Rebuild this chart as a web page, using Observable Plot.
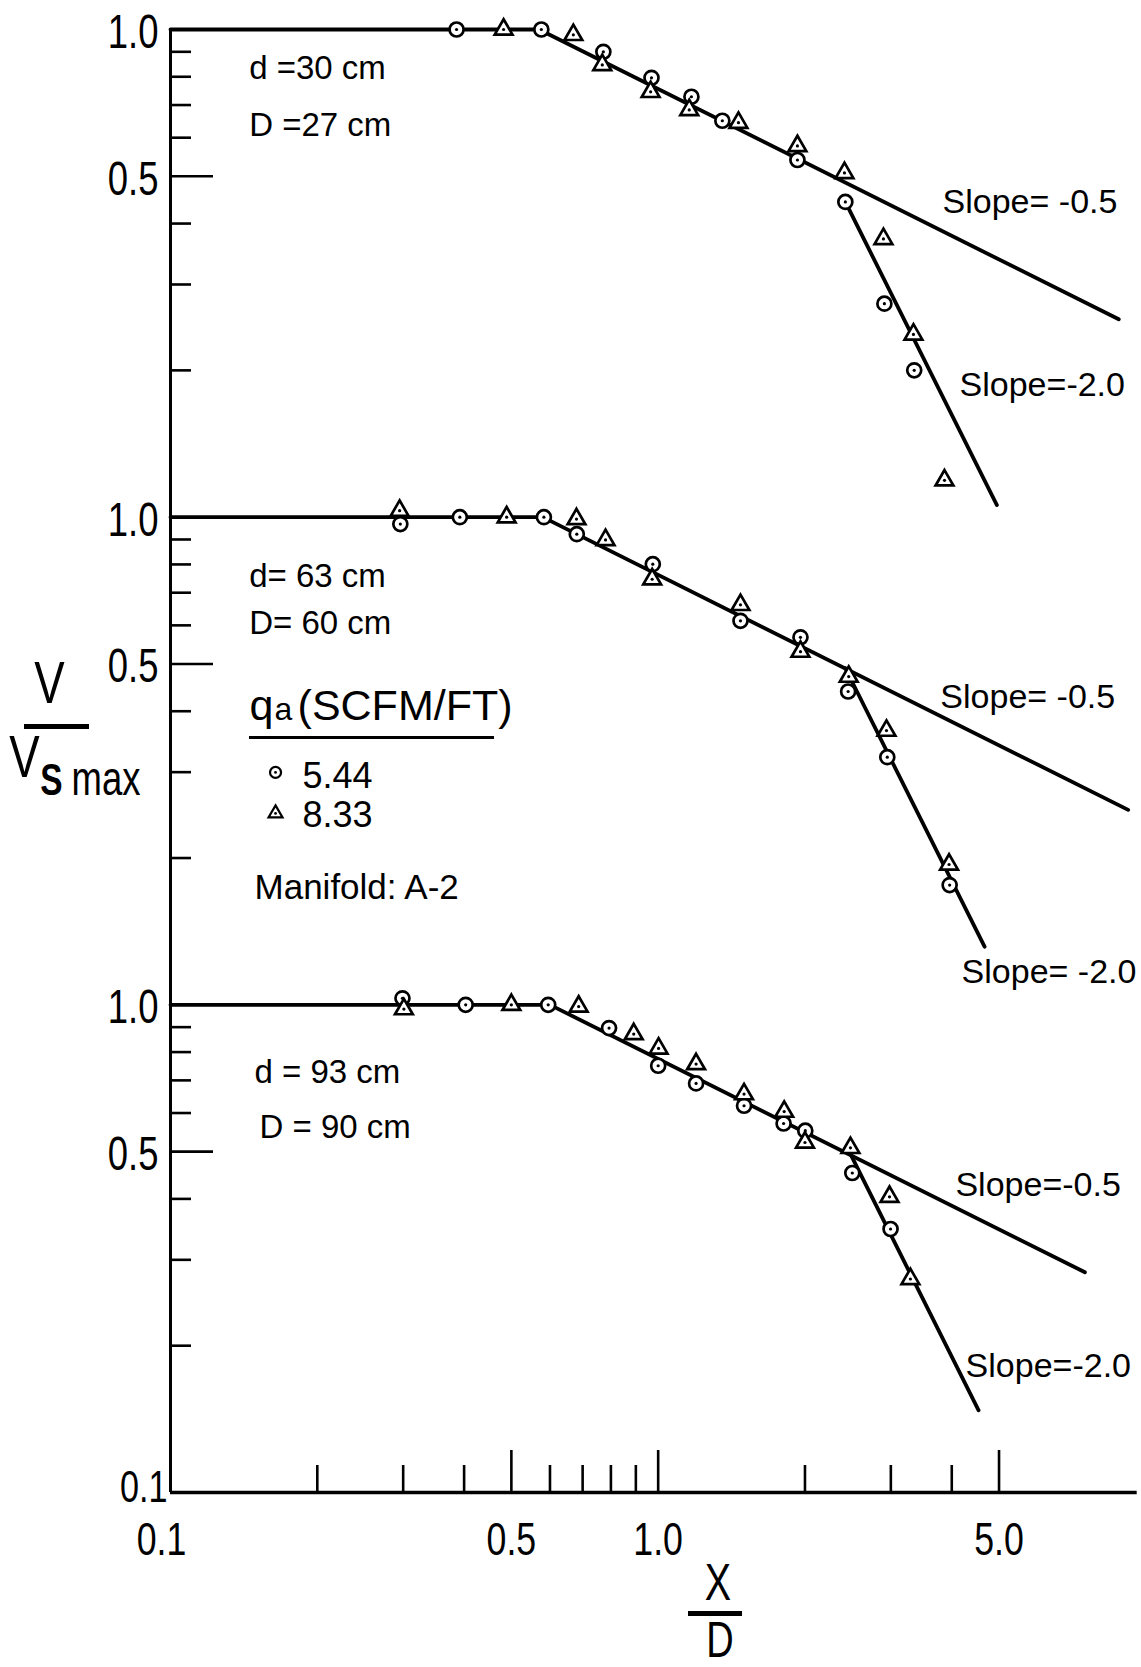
<!DOCTYPE html>
<html>
<head>
<meta charset="utf-8">
<script src="https://cdn.jsdelivr.net/npm/d3@7"></script>
<script src="https://cdn.jsdelivr.net/npm/@observablehq/plot@0.6"></script>
<style>
  html, body { margin: 0; padding: 0; background: #fff; }
  #chart svg { display: block; }
</style>
</head>
<body>
<div id="chart"></div>
<script>
// ---------------------------------------------------------------------------
// Centre-line velocity decay V / Vs,max against X / D for three gaps,
// two air rates each (q_a = 5.44 and 8.33 SCFM/FT), Manifold A-2.
// The three panels share one log axis; each sits one decade above the next.
// ---------------------------------------------------------------------------

// d = 30 cm, D = 27 cm
const d30CircleX   = [0.386, 0.576, 0.772, 0.969, 1.170, 1.354, 1.930, 2.420, 2.910, 3.350];
const d30CircleV   = [1.000, 1.000, 0.900, 0.796, 0.728, 0.650, 0.540, 0.443, 0.274, 0.200];
const d30TriangleX = [0.482, 0.670, 0.768, 0.965, 1.158, 1.461, 1.930, 2.410, 2.897, 3.338, 3.865];
const d30TriangleV = [1.000, 0.975, 0.846, 0.745, 0.684, 0.644, 0.577, 0.508, 0.372, 0.237, 0.119];

// d = 63 cm, D = 60 cm
const d63CircleX   = [0.296, 0.392, 0.583, 0.681, 0.975, 1.475, 1.958, 2.452, 2.950, 3.960];
const d63CircleV   = [0.968, 1.000, 1.000, 0.923, 0.801, 0.613, 0.567, 0.439, 0.322, 0.176];
const d63TriangleX = [0.295, 0.489, 0.680, 0.780, 0.972, 1.475, 1.958, 2.459, 2.939, 3.949];
const d63TriangleV = [1.031, 1.000, 0.991, 0.898, 0.746, 0.661, 0.530, 0.471, 0.365, 0.194];

// d = 93 cm, D = 90 cm
const d93CircleX   = [0.299, 0.403, 0.595, 0.793, 1.000, 1.196, 1.500, 1.808, 2.003, 2.501, 2.996];
const d93CircleV   = [1.031, 1.000, 1.000, 0.896, 0.750, 0.690, 0.621, 0.571, 0.552, 0.452, 0.347];
const d93TriangleX = [0.301, 0.500, 0.687, 0.891, 1.002, 1.196, 1.500, 1.813, 2.000, 2.479, 2.981, 3.290];
const d93TriangleV = [0.980, 1.000, 0.992, 0.871, 0.814, 0.756, 0.656, 0.604, 0.522, 0.509, 0.404, 0.274];

// Panels, top to bottom, and the decade shift that stacks them
const panelNames  = ["d=30", "d=63", "d=93"];
const panelShift  = [100, 10, 1];
const airRates    = ["5.44", "8.33"];

// Fitted lines: plateau at 1.0, then slope -0.5, then slope -2.0
const shallowSlope   = -0.5;
const steepSlope     = -2.0;
const kneeX          = [0.57, 0.58, 0.60];
const shallowEndX    = [8.8, 9.2, 7.5];
const steepStartX    = [2.42, 2.42, 2.49];
const steepStartV    = [0.443, 0.49, 0.49];
const steepEndX      = [4.95, 4.67, 4.54];

// Axis ticks (per decade on y)
const yMinorTicks = [0.2, 0.3, 0.4, 0.6, 0.7, 0.8, 0.9];
const yMajorTicks = [0.5];
const yTickLabels = [{v: 1, label: "1.0"}, {v: 0.5, label: "0.5"}];
const xMinorTicks = [0.2, 0.3, 0.4, 0.6, 0.7, 0.8, 0.9, 2, 3, 4];
const xMajorTicks = [0.5, 1, 5];
const xTickValues = [0.5, 1, 5];
const xTickLabels = ["0.5", "1.0", "5.0"];

// ---------------------------------------------------------------------------
// Layout: equal pixels per decade on both axes
const W = 1141, H = 1667;
const marginLeft = 170, marginTop = 29, marginBottom = 175;
const decade = (H - marginTop - marginBottom) / 3;
const xMax = 9.6;
const marginRight = W - marginLeft - decade * Math.log10(xMax / 0.1);
// pixel position -> data value (for the fraction bars outside the frame)
const toX = px => 0.1 * 10 ** ((px - marginLeft) / decade);
const toY = py => 0.1 * 10 ** ((H - marginBottom - py) / decade);

// Condensed lettering is the sans face squeezed horizontally after rendering
const narrow = "'Liberation Sans', Helvetica, sans-serif";
const plain  = "'Liberation Sans', Arial, sans-serif";
const squeeze = 0.76;

// ---------------------------------------------------------------------------
// Tidy point rows
const series = [
  [d30CircleX, d30CircleV, d30TriangleX, d30TriangleV],
  [d63CircleX, d63CircleV, d63TriangleX, d63TriangleV],
  [d93CircleX, d93CircleV, d93TriangleX, d93TriangleV]
];
const points = series.flatMap(([cx, cv, tx, tv], p) => [
  ...cx.map((x, i) => ({panel: panelNames[p], q: airRates[0], x, v: cv[i], y: cv[i] * panelShift[p]})),
  ...tx.map((x, i) => ({panel: panelNames[p], q: airRates[1], x, v: tv[i], y: tv[i] * panelShift[p]}))
]);

// Fitted line vertices from the stated slopes
const fits = panelNames.flatMap((name, p) => {
  const s = panelShift[p];
  const vShallow = x => (x / kneeX[p]) ** shallowSlope;
  const vSteep = x => steepStartV[p] * (x / steepStartX[p]) ** steepSlope;
  return [
    {id: name + "-a", x: 0.1, y: s},
    {id: name + "-a", x: kneeX[p], y: s},
    {id: name + "-a", x: shallowEndX[p], y: vShallow(shallowEndX[p]) * s},
    {id: name + "-b", x: steepStartX[p], y: steepStartV[p] * s},
    {id: name + "-b", x: steepEndX[p], y: vSteep(steepEndX[p]) * s}
  ];
});

const yMinor = panelShift.flatMap(s => yMinorTicks.map(t => t * s));
const yMajor = panelShift.flatMap(s => yMajorTicks.map(t => t * s));
const yLabels = panelShift.flatMap(s => yTickLabels.map(d => ({y: d.v * s, label: d.label})));
const xLabels = xTickValues.map((x, i) => ({x, label: xTickLabels[i]}));

// Panel annotations (x in X/D, v in V/Vs,max of that panel)
const notes = [
  {p: 0, x: 0.145, v: 0.793, text: "d =30 cm"},
  {p: 0, x: 0.145, v: 0.606, text: "D =27 cm"},
  {p: 1, x: 0.145, v: 0.718, text: "d= 63 cm"},
  {p: 1, x: 0.145, v: 0.577, text: "D= 60 cm"},
  {p: 2, x: 0.1487, v: 0.690, text: "d = 93 cm"},
  {p: 2, x: 0.1522, v: 0.532, text: "D = 90 cm"}
].map(d => ({...d, y: d.v * panelShift[d.p]}));

const slopeNotes = [
  {p: 0, x: 3.83, v: 0.4195, text: `Slope= ${shallowSlope.toFixed(1)}`},
  {p: 0, x: 4.15, v: 0.1768, text: `Slope=${steepSlope.toFixed(1)}`},
  {p: 1, x: 3.79, v: 0.407, text: `Slope= ${shallowSlope.toFixed(1)}`},
  {p: 1, x: 4.19, v: 0.1106, text: `Slope= ${steepSlope.toFixed(1)}`},
  {p: 2, x: 4.07, v: 0.4064, text: `Slope=${shallowSlope.toFixed(1)}`},
  {p: 2, x: 4.27, v: 0.1729, text: `Slope=${steepSlope.toFixed(1)}`}
].map(d => ({...d, y: d.v * panelShift[d.p]}));

// Key, placed in the middle panel
const keyShift = panelShift[1];
const keyMarks = [
  {q: airRates[0], x: 0.1642, y: 0.2996 * keyShift},
  {q: airRates[1], x: 0.1642, y: 0.2469 * keyShift}
];
const keyLabels = [
  {x: 0.1865, y: 0.2778 * keyShift, text: airRates[0]},
  {x: 0.1865, y: 0.2311 * keyShift, text: airRates[1]}
];

const lineStyle = {stroke: "black", strokeWidth: 3.8, strokeLinejoin: "round", strokeLinecap: "round"};
const markStyle = {stroke: "black", strokeWidth: 2.7, fill: "white"};
const tickStyle = {strokeWidth: 2.6, label: null, tickFormat: () => ""};

const chart = Plot.plot({
  width: W,
  height: H,
  marginLeft, marginRight, marginTop, marginBottom,
  style: {background: "white", color: "black", overflow: "visible"},
  x: {type: "log", domain: [0.1, xMax], axis: null},
  y: {type: "log", domain: [0.1, 100], axis: null},
  marks: [
    // axis lines
    Plot.ruleX([0.1], {y1: 0.1, y2: 100, stroke: "black", strokeWidth: 3}),
    Plot.ruleY([0.1], {x1: 0.1, x2: xMax, stroke: "black", strokeWidth: 3.6}),
    // inward ticks
    Plot.axisY(yMinor, {anchor: "left", tickSize: -21, ...tickStyle}),
    Plot.axisY(yMajor, {anchor: "left", tickSize: -43, ...tickStyle}),
    Plot.axisX(xMinorTicks, {anchor: "bottom", tickSize: -27, ...tickStyle}),
    Plot.axisX(xMajorTicks, {anchor: "bottom", tickSize: -42, ...tickStyle}),
    // tick labels
    Plot.text(yLabels, {y: "y", text: "label", frameAnchor: "left", dx: -12, dy: 3, textAnchor: "end",
      fontFamily: narrow, fontSize: 48}),
    Plot.text(["0.1"], {y: 0.1, text: d => d, frameAnchor: "left", dx: -3, dy: -5, textAnchor: "end",
      fontFamily: narrow, fontSize: 45}),
    Plot.text(xLabels, {x: "x", text: "label", frameAnchor: "bottom", dy: 62, lineAnchor: "bottom",
      textAnchor: "middle", fontFamily: narrow, fontSize: 47}),
    Plot.text(["0.1"], {x: 0.1, text: d => d, frameAnchor: "bottom", dx: -9, dy: 62, lineAnchor: "bottom",
      textAnchor: "middle", fontFamily: narrow, fontSize: 47}),
    // axis titles
    Plot.text(["V"], {frameAnchor: "left", dx: -121, dy: -58, lineAnchor: "bottom", textAnchor: "middle",
      fontFamily: narrow, fontSize: 60}),
    Plot.ruleY([toY(726)], {x1: toX(24), x2: toX(89), stroke: "black", strokeWidth: 5}),
    Plot.text(["V"], {frameAnchor: "left", dx: -146, dy: 16, lineAnchor: "bottom", textAnchor: "middle",
      fontFamily: narrow, fontSize: 60}),
    Plot.text(["S"], {frameAnchor: "left", dx: -119, dy: 34, lineAnchor: "bottom", textAnchor: "middle",
      fontFamily: narrow, fontSize: 44, fontWeight: "bold"}),
    Plot.text(["max"], {frameAnchor: "left", dx: -99, dy: 34, lineAnchor: "bottom", textAnchor: "start",
      fontFamily: narrow, fontSize: 48}),
    Plot.text(["X"], {frameAnchor: "bottom", dx: 64, dy: 107, lineAnchor: "bottom", textAnchor: "middle",
      fontFamily: narrow, fontSize: 52}),
    Plot.ruleY([toY(1613)], {x1: toX(688), x2: toX(742), stroke: "black", strokeWidth: 5}),
    Plot.text(["D"], {frameAnchor: "bottom", dx: 66, dy: 164, lineAnchor: "bottom", textAnchor: "middle",
      fontFamily: narrow, fontSize: 50}),
    // fitted lines
    Plot.line(fits, {x: "x", y: "y", z: "id", ...lineStyle}),
    // measurements
    Plot.dot(points.filter(d => d.q === airRates[0]), {x: "x", y: "y", symbol: "circle", r: 7, ...markStyle}),
    Plot.dot(points.filter(d => d.q === airRates[1]), {x: "x", y: "y", symbol: "triangle", r: 6.6, ...markStyle}),
    Plot.dot(points, {x: "x", y: "y", r: 1.6, fill: "black", stroke: null}),
    // panel annotations
    Plot.text(notes, {x: "x", y: "y", text: "text", textAnchor: "start", lineAnchor: "bottom",
      fontFamily: plain, fontSize: 33}),
    Plot.text(slopeNotes, {x: "x", y: "y", text: "text", textAnchor: "start", lineAnchor: "bottom",
      fontFamily: plain, fontSize: 34}),
    // key
    Plot.text(["q"], {x: 0.1452, y: 0.383 * keyShift, textAnchor: "start", lineAnchor: "bottom", fontFamily: plain, fontSize: 43}),
    Plot.text(["a"], {x: 0.1634, y: 0.383 * keyShift, textAnchor: "start", lineAnchor: "bottom", fontFamily: plain, fontSize: 32}),
    Plot.text(["(SCFM/FT)"], {x: 0.1822, y: 0.383 * keyShift, textAnchor: "start", lineAnchor: "bottom", fontFamily: plain, fontSize: 43}),
    Plot.ruleY([0.3534 * keyShift], {x1: 0.1452, x2: 0.4617, stroke: "black", strokeWidth: 3}),
    Plot.dot(keyMarks.slice(0, 1), {x: "x", y: "y", symbol: "circle", r: 5.5, ...markStyle, strokeWidth: 2.2}),
    Plot.dot(keyMarks.slice(1), {x: "x", y: "y", symbol: "triangle", r: 5.2, ...markStyle, strokeWidth: 2.2}),
    Plot.dot(keyMarks, {x: "x", y: "y", r: 1.4, fill: "black", stroke: null}),
    Plot.text(keyLabels, {x: "x", y: "y", text: "text", textAnchor: "start", lineAnchor: "bottom", fontFamily: plain, fontSize: 36}),
    Plot.text(["Manifold: A-2"], {x: 0.1487, y: 0.1652 * keyShift, textAnchor: "start", lineAnchor: "bottom", fontFamily: plain, fontSize: 35})
  ]
});

// squeeze the condensed lettering about each text's own anchor
d3.select(chart).selectAll("g")
  .filter(function() { return this.getAttribute("font-family") === narrow; })
  .selectAll("text")
  .attr("transform", function() { return `${this.getAttribute("transform") || ""} scale(${squeeze},1)`; });

document.getElementById("chart").append(chart);
</script>
</body>
</html>
